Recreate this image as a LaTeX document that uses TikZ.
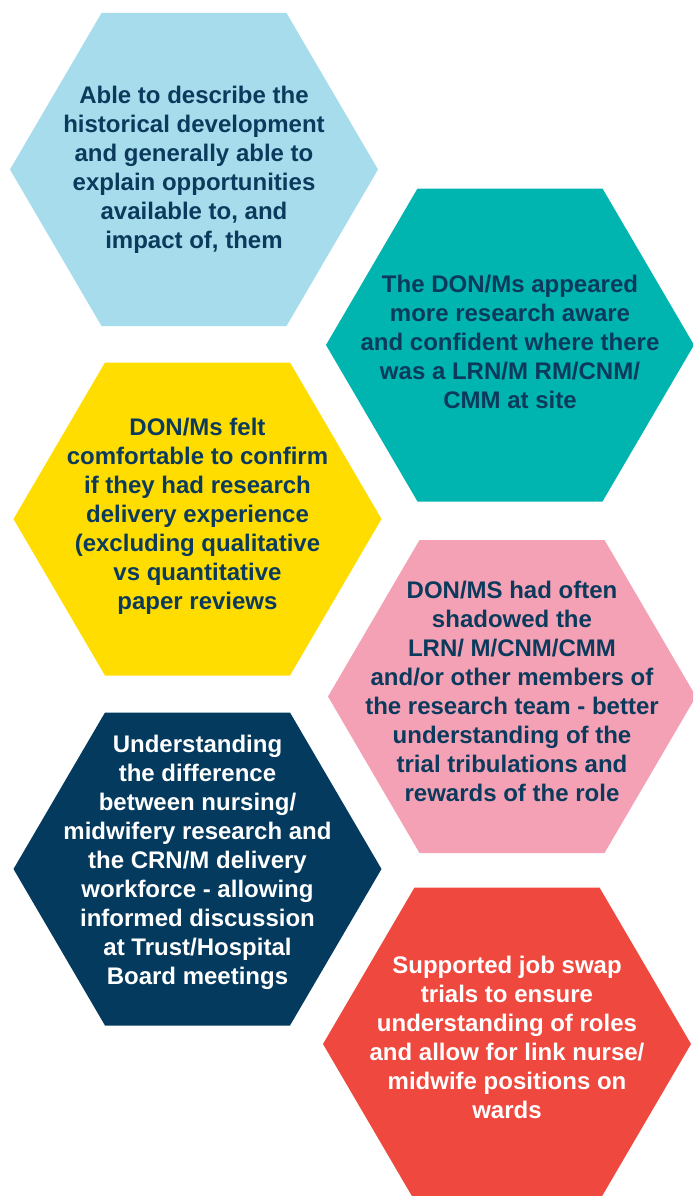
\documentclass[tikz,border=0pt]{standalone}
\usepackage{fontspec}
\setmainfont{Liberation Sans}
\definecolor{hexblue}{HTML}{A6DCEC}
\definecolor{hexteal}{HTML}{00B4AF}
\definecolor{hexyellow}{HTML}{FFDD00}
\definecolor{hexpink}{HTML}{F4A1B5}
\definecolor{hexnavy}{HTML}{033A5E}
\definecolor{hexred}{HTML}{EF483E}
\definecolor{txtdark}{HTML}{0B3A5C}
\newcommand\drawhex[3]{%
  \fill[#3, shift={(#1,#2)}] (-184,0) -- (-92.5,-156.5) -- (92.5,-156.5) -- (184,0) -- (92.5,156.5) -- (-92.5,156.5) -- cycle;}
\tikzset{
  hextext/.style={align=center, font=\fontsize{24}{29}\selectfont\bfseries, inner sep=0pt},
  darktext/.style={hextext, text=txtdark},
  lighttext/.style={hextext, text=white}
}
\begin{document}
\begin{tikzpicture}[x=1pt,y=-1pt]
\useasboundingbox (0,0) rectangle (693,1196);
\fill[white] (0,0) rectangle (693,1196);
\clip (0,0) rectangle (693,1196);
\drawhex{194}{169.5}{hexblue}
\drawhex{510}{345}{hexteal}
\drawhex{197.5}{519}{hexyellow}
\drawhex{512}{696.5}{hexpink}
\drawhex{197.5}{869}{hexnavy}
\drawhex{507}{1044}{hexred}
\node[darktext] (t1) at (194,170) {Able to describe the\\historical development\\and generally able to\\explain opportunities\\available to, and\\impact of, them};
\node[darktext] (t2) at (510,342) {The DON/Ms appeared\\more research aware\\and confident where there\\was a LRN/M RM/CNM/\\CMM at site};
\node[darktext] (t3) at (197.5,516) {DON/Ms felt\\comfortable to confirm\\if they had research\\delivery experience\\(excluding qualitative\\vs quantitative\\paper reviews};
\node[darktext] (t4) at (512,691.5) {DON/MS had often\\shadowed the\\LRN/ M/CNM/CMM\\and/or other members of\\the research team - better\\understanding of the\\trial tribulations and\\rewards of the role};
\node[lighttext] (t5) at (197.5,862.5) {Understanding\\the difference\\between nursing/\\midwifery research and\\the CRN/M delivery\\workforce - allowing\\informed discussion\\at Trust/Hospital\\Board meetings};
\node[lighttext] (t6) at (507,1037) {Supported job swap\\trials to ensure\\understanding of roles\\and allow for link nurse/\\midwife positions on\\wards};
\end{tikzpicture}
\end{document}
